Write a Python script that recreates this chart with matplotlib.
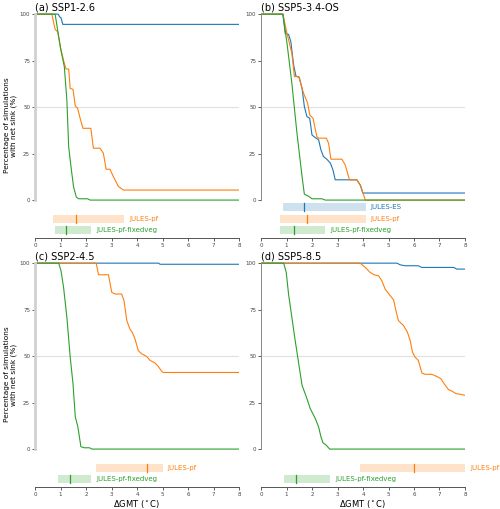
import numpy as np
import matplotlib
matplotlib.use("Agg")
import matplotlib.pyplot as plt

BLUE, ORANGE, GREEN = "#1f77b4", "#ff7f0e", "#2ca02c"

# ---- (a) SSP1-2.6 ----
a_es_x = [0, 0.91, 0.97, 1.02, 1.09, 8]
a_es_y = [100, 100, 98.5, 98, 94.5, 94.5]
a_pf_x = [0, 0.66, 0.79, 0.89, 1.02, 1.15, 1.22, 1.32, 1.38, 1.49, 1.58, 1.67, 1.77, 1.88,
          2.19, 2.29, 2.55, 2.68, 2.79, 2.94, 3.07, 3.27, 3.47, 8]
a_pf_y = [100, 100, 91.8, 90.5, 80.7, 73.5, 70.5, 70.5, 60, 59.6, 50.6, 49.4, 44, 38.6,
          38.6, 27.9, 27.9, 25.2, 16.6, 16.6, 12.7, 7.3, 5.4, 5.4]
a_fv_x = [0, 0.79, 0.99, 1.15, 1.25, 1.32, 1.41, 1.51, 1.62, 1.71, 2.06, 2.16, 8]
a_fv_y = [100, 100, 82.5, 71.7, 53.8, 28.8, 18.1, 7.3, 1.6, 0.7, 0.7, 0, 0]

# ---- (b) SSP5-3.4-OS ----
b_es_x = [0, 0.86, 0.95, 1.08, 1.17, 1.28, 1.37, 1.50, 1.61, 1.70, 1.80, 1.91, 2.0, 2.13,
          2.26, 2.35, 2.45, 2.58, 2.72, 2.82, 2.91, 3.76, 3.89, 3.99, 8]
b_es_y = [100, 100, 89.6, 89.1, 85.2, 72.6, 66.7, 66, 60, 50.3, 44.9, 44, 35, 33.6,
          32.4, 27, 23.4, 22, 19.9, 16.3, 10.9, 10.9, 8.2, 3.8, 3.8]
b_pf_x = [0, 0.86, 1.02, 1.21, 1.31, 1.48, 1.67, 1.83, 1.91, 2.04, 2.19, 2.26, 2.56, 2.65,
          2.74, 3.17, 3.30, 3.47, 3.76, 3.92, 4.09, 8]
b_pf_y = [100, 100, 89.6, 78.9, 66.4, 66.4, 57.4, 52.1, 45.8, 44, 34.2, 33.3, 33.3, 30.6,
          22, 22, 19, 10.9, 10.9, 7.3, 0, 0]
b_fv_x = [0, 0.86, 0.89, 1.02, 1.21, 1.41, 1.61, 1.70, 1.87, 2.0, 2.39, 2.52, 8]
b_fv_y = [100, 100, 96.8, 84.3, 62.8, 36, 12.7, 3.2, 2, 0.7, 0.7, 0, 0]

# ---- (c) SSP2-4.5 ----
c_es_x = [0, 4.85, 4.9, 8]
c_es_y = [100, 100, 99.4, 99.4]
c_pf_x = [0, 2.40, 2.49, 2.88, 3.01, 3.14, 3.40, 3.49, 3.60, 3.72, 3.81, 3.92, 4.05, 4.18,
          4.38, 4.51, 4.70, 4.83, 4.96, 5.03, 8]
c_pf_y = [100, 100, 93.75, 93.75, 84.3, 83.4, 83.4, 79.8, 69.1, 64.6, 62.9, 59.3, 53, 51.3,
          49.8, 47.7, 46.4, 44.5, 42, 41.2, 41.2]
c_fv_x = [0, 0.93, 1.02, 1.12, 1.25, 1.38, 1.49, 1.58, 1.68, 1.80, 1.93, 2.14, 2.23, 8]
c_fv_y = [100, 100, 95.9, 87, 70.9, 49.5, 35.2, 17.3, 12, 1.3, 0.7, 0.7, 0, 0]

# ---- (d) SSP5-8.5 ----
d_es_x = [0, 5.33, 5.46, 5.65, 6.17, 6.30, 7.55, 7.68, 8]
d_es_y = [100, 100, 99.1, 98.6, 98.6, 97.7, 97.7, 96.8, 96.8]
d_pf_x = [0, 3.89, 4.09, 4.28, 4.44, 4.61, 4.74, 4.87, 5.07, 5.20, 5.29, 5.39, 5.59, 5.74,
          5.85, 5.94, 6.04, 6.17, 6.31, 6.44, 6.70, 6.89, 7.05, 7.18, 7.35, 7.48, 7.65,
          7.81, 8.0]
d_pf_y = [100, 100, 97.7, 95, 93.75, 93.2, 90.5, 86, 82.5, 80.2, 74.5, 69.1, 66.4, 62.9,
          58.4, 52.1, 49.5, 47.7, 40.9, 40.2, 40.2, 39.1, 37.9, 35.2, 32, 31.25, 29.8,
          29.5, 28.9]
d_fv_x = [0, 0.89, 0.99, 1.08, 1.21, 1.34, 1.48, 1.61, 1.78, 1.93, 2.13, 2.26, 2.35, 2.43,
          2.56, 2.69, 8]
d_fv_y = [100, 100, 95, 83.4, 70.9, 58.4, 45.9, 34.3, 28, 21.8, 16.4, 11.9, 6.6, 3.4,
          2.1, 0, 0]

# range bars: (label, low, high, median, colour, row)
a_bars = [("JULES-pf", 0.69, 3.50, 1.62, ORANGE, 1), ("JULES-pf-fixedveg", 0.79, 2.21, 1.20, GREEN, 2)]
b_bars = [("JULES-ES", 0.86, 4.11, 1.70, BLUE, 0), ("JULES-pf", 0.76, 4.11, 1.80, ORANGE, 1),
          ("JULES-pf-fixedveg", 0.76, 2.52, 1.28, GREEN, 2)]
c_bars = [("JULES-pf", 2.40, 5.00, 4.40, ORANGE, 1), ("JULES-pf-fixedveg", 0.89, 2.21, 1.38, GREEN, 2)]
d_bars = [("JULES-pf", 3.89, 8.00, 6.00, ORANGE, 1), ("JULES-pf-fixedveg", 0.89, 2.72, 1.38, GREEN, 2)]

bar_y = [-3.9, -10.0, -16.0]
bar_h = 4.2

panels = [
    ("(a) SSP1-2.6", [0.07, 0.5324, 0.408, 0.442], (a_es_x, a_es_y), (a_pf_x, a_pf_y), (a_fv_x, a_fv_y), a_bars, True, False),
    ("(b) SSP5-3.4-OS", [0.522, 0.5324, 0.408, 0.442], (b_es_x, b_es_y), (b_pf_x, b_pf_y), (b_fv_x, b_fv_y), b_bars, False, False),
    ("(c) SSP2-4.5", [0.07, 0.0432, 0.408, 0.442], (c_es_x, c_es_y), (c_pf_x, c_pf_y), (c_fv_x, c_fv_y), c_bars, True, True),
    ("(d) SSP5-8.5", [0.522, 0.0432, 0.408, 0.442], (d_es_x, d_es_y), (d_pf_x, d_pf_y), (d_fv_x, d_fv_y), d_bars, False, True),
]

fig = plt.figure(figsize=(5.0, 5.09), dpi=100, facecolor="white")

for title, pos, es, pf, fv, bars, left, bottom in panels:
    ax = fig.add_axes(pos)
    ax.axhline(50, xmin=0, xmax=1, color="#e0e0e0", lw=0.8, zorder=0)
    ax.plot(es[0], es[1], color=BLUE, lw=0.8)
    ax.plot(pf[0], pf[1], color=ORANGE, lw=0.8)
    ax.plot(fv[0], fv[1], color=GREEN, lw=0.8)

    for name, lo, hi, med, col, row in bars:
        y = bar_y[row]
        ax.barh(y, hi - lo, left=lo, height=bar_h, color=col, alpha=0.22, lw=0)
        ax.plot([med, med], [y - bar_h / 2, y + bar_h / 2], color=col, lw=0.9)
        ax.text(hi + 0.2, y, name, color=col, fontsize=5, va="center", ha="left", clip_on=False)

    ax.set_xlim(0, 8)
    ax.set_ylim(-20.4, 100.6)
    ax.set_yticks([0, 25, 50, 75, 100])
    ax.set_xticks(range(9))
    ax.tick_params(labelsize=4, length=2, width=0.6, pad=1.5, colors="#444444")
    for s in ["top", "right"]:
        ax.spines[s].set_visible(False)
    ax.spines["left"].set_bounds(0, 100)
    if left:
        ax.spines["left"].set_color("#d0d0d0")
        ax.spines["left"].set_linewidth(2)
        ax.set_ylabel("Percentage of simulations\nwith net sink (%)", fontsize=5.3, labelpad=2,
                      linespacing=1.1)
    else:
        ax.spines["left"].set_color("#888888")
        ax.spines["left"].set_linewidth(0.7)
    ax.spines["bottom"].set_color("#555555")
    ax.spines["bottom"].set_linewidth(0.7)
    if bottom:
        ax.set_xlabel(r"$\Delta$GMT ($^\circ$C)", fontsize=6, labelpad=1)
    ax.set_title(title, loc="left", fontsize=7, pad=2)

fig.savefig("out.png", dpi=100, facecolor="white")
